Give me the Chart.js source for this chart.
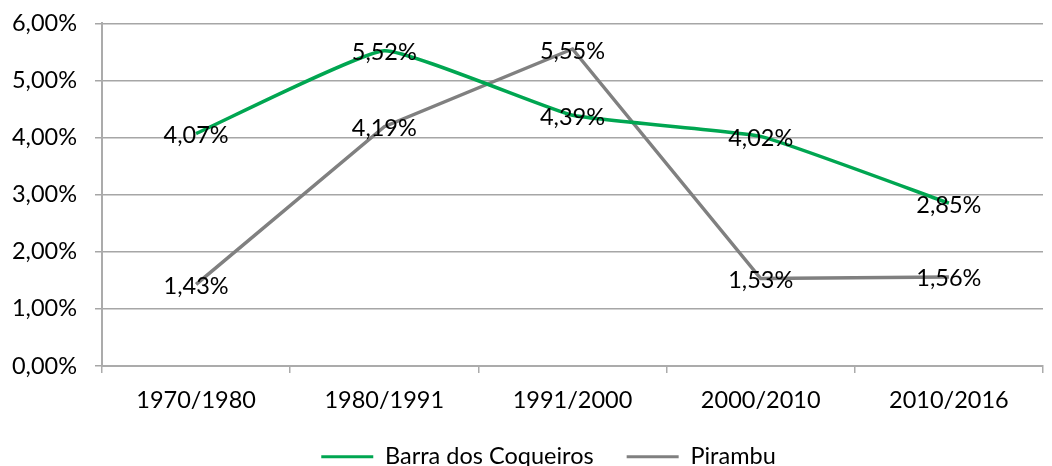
<!DOCTYPE html>
<html>
<head>
<meta charset="utf-8">
<script src="https://cdn.jsdelivr.net/npm/chart.js@4"></script>
<style>
    html, body { margin: 0; padding: 0; background: #ffffff; }
    #wrap { width: 1052px; height: 466px; }
</style>
</head>
<body>
<div id="wrap"><canvas id="growthChart" width="1052" height="466"></canvas></div>
<script>
// Data
const periods = ['1970/1980', '1980/1991', '1991/2000', '2000/2010', '2010/2016'];
const barraValues = [4.07, 5.52, 4.39, 4.02, 2.85];
const pirambuValues = [1.43, 4.19, 5.55, 1.53, 1.56];
const seriesNames = ['Barra dos Coqueiros', 'Pirambu'];

const FONT = 'Lato, "Open Sans", sans-serif';
const FSIZE = 23.5;

function pct(v) {
    return v.toFixed(2).replace('.', ',') + '%';
}

// Draw value labels centered on each point
const pointLabels = {
    id: 'pointLabels',
    afterDatasetsDraw(chart) {
        const ctx = chart.ctx;
        ctx.save();
        ctx.font = FSIZE + 'px ' + FONT;
        ctx.fillStyle = '#000000';
        ctx.textAlign = 'center';
        ctx.textBaseline = 'middle';
        chart.data.datasets.forEach((ds, i) => {
            const meta = chart.getDatasetMeta(i);
            meta.data.forEach((pt, j) => {
                ctx.fillText(pct(ds.data[j]), pt.x, pt.y + 2);
            });
        });
        ctx.restore();
    }
};

// Legend in the original sits a little left of the plot centre
const legendNudge = {
    id: 'legendNudge',
    afterLayout(chart) {
        if (!chart.legend) return;
        chart.legend.left -= 24;
        chart.legend.right -= 24;
    }
};

new Chart(document.getElementById('growthChart'), {
    type: 'line',
    data: {
        labels: periods,
        datasets: [{
            label: seriesNames[0],
            data: barraValues,
            borderColor: '#00a651',
            backgroundColor: '#00a651',
            borderWidth: 3.5,
            tension: 0.12,
            pointRadius: 0,
            fill: false
        }, {
            label: seriesNames[1],
            data: pirambuValues,
            borderColor: '#808080',
            backgroundColor: '#808080',
            borderWidth: 3.5,
            tension: 0,
            pointRadius: 0,
            fill: false
        }]
    },
    options: {
        responsive: false,
        animation: false,
        layout: {
            padding: { top: 0, right: 9, left: 0, bottom: -12.5 }
        },
        plugins: {
            tooltip: { enabled: false },
            legend: {
                position: 'bottom',
                fullSize: false,
                labels: {
                    color: '#000000',
                    boxWidth: 52,
                    boxHeight: 3,
                    padding: 33,
                    font: { family: FONT, size: FSIZE },
                    generateLabels(chart) {
                        return chart.data.datasets.map((ds, i) => ({
                            text: ds.label,
                            fillStyle: ds.borderColor,
                            strokeStyle: ds.borderColor,
                            lineWidth: 0,
                            fontColor: '#000000',
                            datasetIndex: i
                        }));
                    }
                }
            }
        },
        scales: {
            x: {
                offset: true,
                grid: {
                    offset: true,
                    drawOnChartArea: false,
                    drawTicks: true,
                    tickLength: 7,
                    lineWidth: 1.5,
                    color: '#ababab'
                },
                border: { color: '#ababab', width: 2 },
                ticks: {
                    color: '#000000',
                    padding: 13,
                    font: { family: FONT, size: FSIZE }
                },
                afterFit(scale) { scale.height = 46; }
            },
            y: {
                min: 0,
                max: 6,
                grid: {
                    color: '#a6a6a6',
                    lineWidth: 1.5,
                    tickLength: 7
                },
                border: { color: '#ababab', width: 2 },
                ticks: {
                    stepSize: 1,
                    color: '#000000',
                    padding: 18,
                    font: { family: FONT, size: FSIZE, lineHeight: 0.45 },
                    callback: (v) => pct(v)
                },
                afterFit(scale) { scale.width = 102; }
            }
        }
    },
    plugins: [pointLabels, legendNudge]
});
</script>
</body>
</html>
